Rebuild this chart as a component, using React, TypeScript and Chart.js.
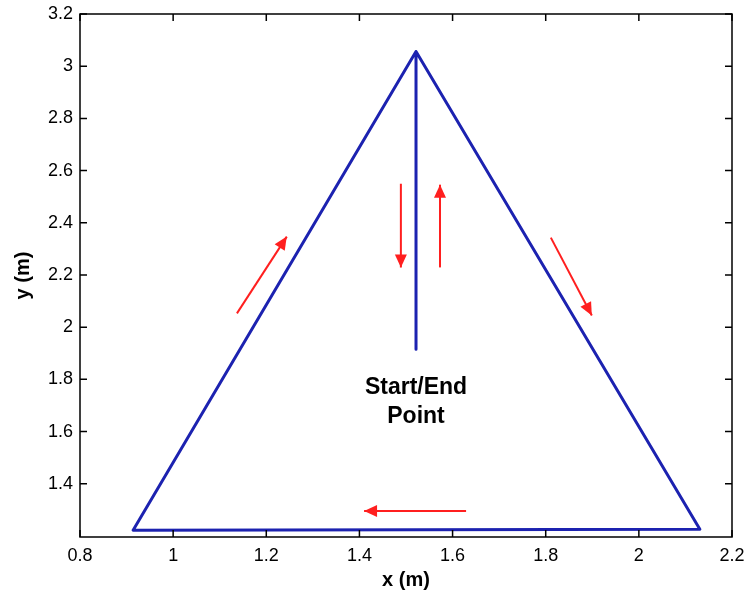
import React, { useEffect, useRef } from 'react';
import { Chart, registerables } from 'chart.js';

Chart.register(...registerables);

// Path of the robot (x, y in metres)
const pathX = [1.5215, 1.5215, 2.131, 0.914, 1.5215, 1.5215];
const pathY = [1.915, 3.056, 1.226, 1.222, 3.056, 1.915];

// Direction arrows (start -> end), data units
const arrowStartX = [1.137, 1.811, 1.629, 1.489, 1.573];
const arrowStartY = [2.053, 2.343, 1.296, 2.55, 2.229];
const arrowEndX = [1.244, 1.899, 1.41, 1.489, 1.573];
const arrowEndY = [2.347, 2.045, 1.296, 2.229, 2.546];

const xTicks = [0.8, 1, 1.2, 1.4, 1.6, 1.8, 2, 2.2];
const yTicks = [1.4, 1.6, 1.8, 2, 2.2, 2.4, 2.6, 2.8, 3, 3.2];

const labelLines = ['Start/End', 'Point'];
const labelX = 1.5215;
const labelY = [1.77, 1.659];

const X_MIN = 0.8;
const X_MAX = 2.2;
const Y_MIN = 1.196;
const Y_MAX = 3.2;

const fmt = (v: number) => String(Number(v.toFixed(2)));

const boxPlugin = {
  id: 'boxAndTicks',
  afterDatasetsDraw(chart: any) {
    const { ctx, chartArea: a, scales } = chart;
    const xs = scales.x;
    const ys = scales.y;
    ctx.save();
    ctx.strokeStyle = '#000';
    ctx.lineWidth = 1.5;
    ctx.beginPath();
    ctx.rect(a.left, a.top, a.right - a.left, a.bottom - a.top);
    ctx.stroke();
    const len = 7;
    ctx.beginPath();
    xs.ticks.forEach((t: any) => {
      const px = xs.getPixelForValue(t.value);
      ctx.moveTo(px, a.bottom);
      ctx.lineTo(px, a.bottom - len);
      ctx.moveTo(px, a.top);
      ctx.lineTo(px, a.top + len);
    });
    ys.ticks.forEach((t: any) => {
      const py = ys.getPixelForValue(t.value);
      ctx.moveTo(a.left, py);
      ctx.lineTo(a.left + len, py);
      ctx.moveTo(a.right, py);
      ctx.lineTo(a.right - len, py);
    });
    ctx.stroke();

    // arrow heads
    chart.data.datasets.forEach((ds: any, i: number) => {
      if (!ds.isArrow) return;
      const meta = chart.getDatasetMeta(i);
      const p0 = meta.data[0];
      const p1 = meta.data[1];
      const ang = Math.atan2(p1.y - p0.y, p1.x - p0.x);
      const hl = 13;
      const hw = 6;
      ctx.fillStyle = ds.borderColor;
      ctx.beginPath();
      ctx.moveTo(p1.x, p1.y);
      ctx.lineTo(
        p1.x - hl * Math.cos(ang) + hw * Math.sin(ang),
        p1.y - hl * Math.sin(ang) - hw * Math.cos(ang)
      );
      ctx.lineTo(
        p1.x - hl * Math.cos(ang) - hw * Math.sin(ang),
        p1.y - hl * Math.sin(ang) + hw * Math.cos(ang)
      );
      ctx.closePath();
      ctx.fill();
    });

    // text label
    ctx.fillStyle = '#000';
    ctx.font = 'bold 23px "Liberation Sans", Arial, sans-serif';
    ctx.textAlign = 'center';
    ctx.textBaseline = 'middle';
    labelLines.forEach((s, i) => {
      ctx.fillText(s, xs.getPixelForValue(labelX), ys.getPixelForValue(labelY[i]));
    });
    ctx.restore();
  },
};

export default function App() {
  const ref = useRef<HTMLCanvasElement | null>(null);
  useEffect(() => {
    document.body.style.margin = '0';
    if (!ref.current) return;
    const arrowSets = arrowStartX.map((_, i) => ({
      data: [
        { x: arrowStartX[i], y: arrowStartY[i] },
        { x: arrowEndX[i], y: arrowEndY[i] },
      ],
      showLine: true,
      borderColor: '#ff1f1f',
      borderWidth: 2,
      pointRadius: 0,
      isArrow: true,
    }));
    const chart = new Chart(ref.current, {
      type: 'scatter',
      data: {
        datasets: [
          {
            data: pathX.map((x, i) => ({ x, y: pathY[i] })),
            showLine: true,
            borderColor: '#1c22b0',
            borderWidth: 3,
            borderJoinStyle: 'round',
            pointRadius: 0,
            tension: 0,
          } as any,
          ...(arrowSets as any[]),
        ],
      },
      options: {
        animation: false,
        responsive: false,
        maintainAspectRatio: false,
        layout: { padding: { top: 14, right: 14, left: 0, bottom: 0 } },
        plugins: { legend: { display: false }, tooltip: { enabled: false } },
        scales: {
          x: {
            type: 'linear',
            min: X_MIN,
            max: X_MAX,
            afterBuildTicks: (s: any) => {
              s.ticks = xTicks.map((v) => ({ value: v }));
            },
            afterFit: (s: any) => {
              s.height = 57;
              s.paddingLeft = 0;
              s.paddingRight = 0;
            },
            grid: { display: false, drawTicks: false },
            border: { display: false },
            ticks: {
              padding: 8,
              color: '#000',
              autoSkip: false,
              maxRotation: 0,
              font: { family: '"Liberation Sans", Arial, sans-serif', size: 18 },
              callback: (v: any) => fmt(Number(v)),
            },
            title: {
              display: true,
              text: 'x (m)',
              color: '#000',
              font: { family: '"Liberation Sans", Arial, sans-serif', size: 20, weight: 'bold' },
              padding: { top: 0, bottom: 2 },
            },
          },
          y: {
            type: 'linear',
            min: Y_MIN,
            max: Y_MAX,
            afterBuildTicks: (s: any) => {
              s.ticks = yTicks.map((v) => ({ value: v }));
            },
            afterFit: (s: any) => {
              s.width = 80;
              s.paddingTop = 0;
              s.paddingBottom = 0;
            },
            grid: { display: false, drawTicks: false },
            border: { display: false },
            ticks: {
              padding: 7,
              color: '#000',
              autoSkip: false,
              font: { family: '"Liberation Sans", Arial, sans-serif', size: 18 },
              callback: (v: any) => fmt(Number(v)),
            },
            title: {
              display: true,
              text: 'y (m)',
              color: '#000',
              font: { family: '"Liberation Sans", Arial, sans-serif', size: 20, weight: 'bold' },
              padding: { top: 11, bottom: 0 },
            },
          },
        },
      },
      plugins: [boxPlugin],
    } as any);
    return () => chart.destroy();
  }, []);
  return (
    <div style={{ width: 746, height: 594, background: '#fff' }}>
      <canvas ref={ref} width={746} height={594} style={{ display: 'block' }} />
    </div>
  );
}
